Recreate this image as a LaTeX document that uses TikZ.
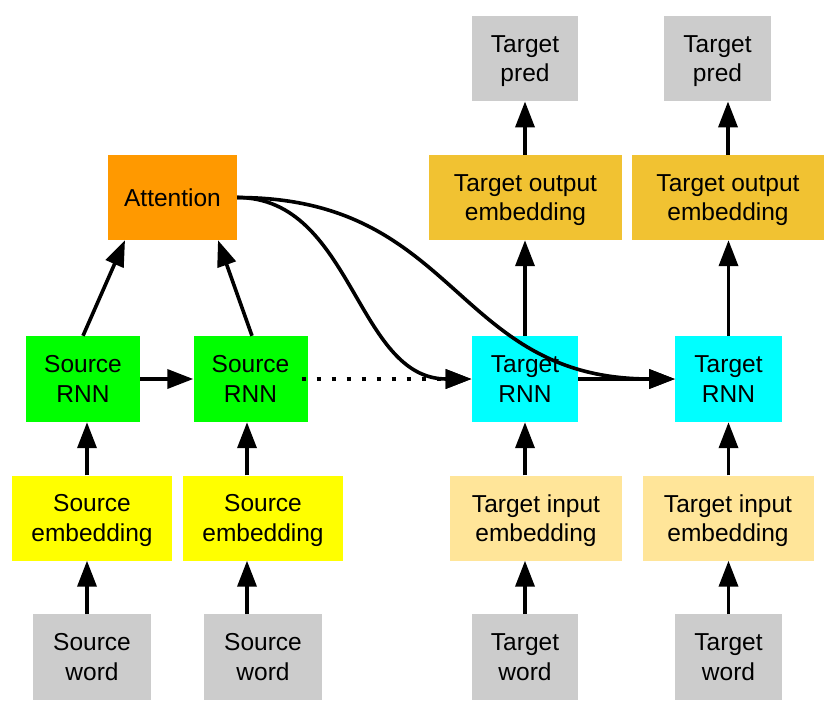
\documentclass[tikz,border=0pt]{standalone}
\usepackage{fontspec}
\setmainfont{Liberation Sans}
\usetikzlibrary{arrows.meta}
\definecolor{cgray}{HTML}{CCCCCC}
\definecolor{cyel}{HTML}{FFFF00}
\definecolor{cgreen}{HTML}{00FF00}
\definecolor{corange}{HTML}{FF9900}
\definecolor{ccyan}{HTML}{00FFFF}
\definecolor{cinemb}{HTML}{FFE599}
\definecolor{coutemb}{HTML}{F1C232}
\begin{document}
\begin{tikzpicture}[x=1pt,y=-1pt,
  box/.style={inner sep=0pt, align=center, font=\fontsize{24.5}{29.5}\selectfont, text depth=0pt},
  grayb/.style={box, fill=cgray, minimum width=#1, minimum height=85.5pt},
  srcemb/.style={box, fill=cyel, minimum width=160pt, minimum height=85pt},
  srcrnn/.style={box, fill=cgreen, minimum width=114pt, minimum height=86pt},
  attn/.style={box, fill=corange, minimum width=129pt, minimum height=85pt},
  tgtrnn/.style={box, fill=ccyan, minimum width=106.5pt, minimum height=86pt},
  inemb/.style={box, fill=cinemb, minimum width=#1, minimum height=85pt},
  outemb/.style={box, fill=coutemb, minimum width=#1, minimum height=85pt},
  conn/.style={line width=3.6pt, -{Triangle[length=26pt,width=19pt]}},
  dotconn/.style={conn, dash pattern=on 4pt off 11pt}]
\useasboundingbox (0,0) rectangle (831,713);

% source side
\node[grayb=118pt] (sw1) at (92,657) {Source\\word};
\node[grayb=118pt] (sw2) at (263,657) {Source\\word};
\node[srcemb] (se1) at (92,518) {Source\\embedding};
\node[srcemb] (se2) at (263,518) {Source\\embedding};
\node[srcrnn] (sr1) at (83,379) {Source\\RNN};
\node[srcrnn] (sr2) at (250.5,379) {Source\\RNN};
\node[attn] (att) at (172.5,197.5) {Attention};

% target side
\node[grayb=106.5pt] (tw1) at (525,657) {Target\\word};
\node[grayb=106.5pt] (tw2) at (728.5,657) {Target\\word};
\node[inemb=172pt] (ti1) at (536,518) {Target input\\embedding};
\node[inemb=171pt] (ti2) at (728,518) {Target input\\embedding};
\node[tgtrnn] (tr1) at (525,379) {Target\\RNN};
\node[tgtrnn] (tr2) at (728.5,379) {Target\\RNN};
\node[outemb=193pt] (to1) at (525.5,197.5) {Target output\\embedding};
\node[outemb=192pt] (to2) at (728,197.5) {Target output\\embedding};
\node[grayb=106.5pt] (tp1) at (525,58.5) {Target\\pred};
\node[grayb=107pt] (tp2) at (717.5,58.5) {Target\\pred};

% source edges
\draw[conn] ([xshift=-5pt]sw1.north) -- ([xshift=-5pt]se1.south);
\draw[conn] ([xshift=-16pt]sw2.north) -- ([xshift=-16pt]se2.south);
\draw[conn] ([xshift=-5pt]se1.north) -- ([xshift=4pt]sr1.south);
\draw[conn] ([xshift=-16pt]se2.north) -- ([xshift=-3.5pt]sr2.south);
\draw[conn] (sr1.east) -- (sr2.west);
\draw[conn] (sr1.north) -- ([xshift=-47.5pt]att.south);
\draw[conn] ([xshift=1.5pt]sr2.north) -- ([xshift=45.5pt]att.south);
\draw[dotconn] ([xshift=-6pt]sr2.east) -- (tr1.west);

% attention curves
\draw[conn] (att.east) to[out=0,in=180] (tr1.west);
\draw[conn] (att.east) to[out=0,in=180,looseness=1.2] (tr2.west);

% target edges
\draw[conn] (tr1.east) -- (tr2.west);
\draw[conn] (tw1.north) -- (tw1.north |- ti1.south);
\draw[conn] (tw2.north) -- (tw2.north |- ti2.south);
\draw[conn] (tr1.south |- ti1.north) -- (tr1.south);
\draw[conn] (tr2.south |- ti2.north) -- (tr2.south);
\draw[conn] (tr1.north) -- (tr1.north |- to1.south);
\draw[conn] (tr2.north) -- (tr2.north |- to2.south);
\draw[conn] (to1.north -| tp1.south) -- (tp1.south);
\draw[conn] (to2.north) -- (to2.north |- tp2.south);
\end{tikzpicture}
\end{document}
